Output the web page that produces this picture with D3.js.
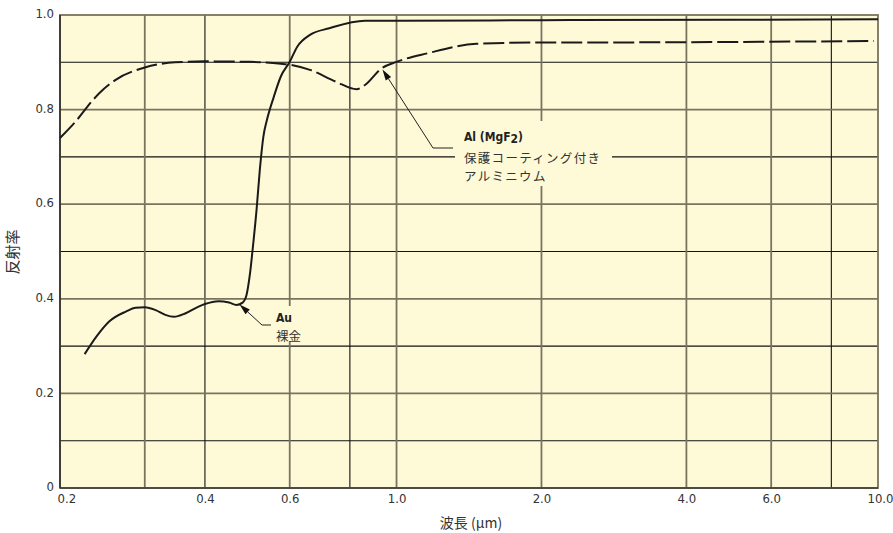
<!DOCTYPE html>
<html>
<head>
<meta charset="utf-8">
<script src="https://cdn.jsdelivr.net/npm/d3@7/dist/d3.min.js"></script>
<style>
  body { margin: 0; background: #ffffff; }
  svg { display: block; }
</style>
</head>
<body>
<svg id="chart" width="893" height="533"></svg>
<script>
// ---- data ----
const xTickValues = [0.2, 0.4, 0.6, 1.0, 2.0, 4.0, 6.0, 10.0];
const xTickLabels = ["0.2", "0.4", "0.6", "1.0", "2.0", "4.0", "6.0", "10.0"];
const yTickValues = [0, 0.2, 0.4, 0.6, 0.8, 1.0];
const yTickLabels = ["0", "0.2", "0.4", "0.6", "0.8", "1.0"];
const xGridMajor = [0.3, 0.6, 1.0, 2.0, 4.0, 6.0];
const xGridMinor = [0.4, 0.8, 8.0];
const yGridMajor = [0.2, 0.4, 0.6, 0.8];
const yGridMinor = [0.1, 0.3, 0.5, 0.7, 0.9];

const auWavelength = [0.225, 0.238, 0.253, 0.274, 0.287, 0.3, 0.316, 0.331, 0.345, 0.364, 0.387, 0.4,
  0.427, 0.449, 0.465, 0.479, 0.488, 0.496, 0.504, 0.512, 0.520, 0.529, 0.538, 0.556, 0.575, 0.6,
  0.622, 0.661, 0.725, 0.86, 1.0, 2.0, 5.0, 10.0];
const auReflectance = [0.283, 0.320, 0.352, 0.373, 0.381, 0.382, 0.376, 0.366, 0.362, 0.369, 0.383, 0.389,
  0.395, 0.392, 0.387, 0.392, 0.408, 0.452, 0.517, 0.588, 0.672, 0.743, 0.778, 0.827, 0.87, 0.901,
  0.933, 0.958, 0.972, 0.988, 0.988, 0.989, 0.990, 0.991];

const alWavelength = [0.2, 0.216, 0.234, 0.241, 0.261, 0.3, 0.347, 0.4, 0.496, 0.575, 0.6, 0.661,
  0.748, 0.826, 0.86, 0.93, 1.0, 1.159, 1.466, 2.0, 2.61, 5.0, 9.8];
const alReflectance = [0.740, 0.776, 0.820, 0.834, 0.863, 0.889, 0.900, 0.902, 0.901, 0.897, 0.895, 0.884,
  0.859, 0.843, 0.852, 0.887, 0.901, 0.919, 0.939, 0.942, 0.942, 0.943, 0.945];

const xTitle = "波長 (μm)";
const yTitle = "反射率";

// ---- layout ----
const L = 60, R = 878, T = 15, B = 488;
const GREY = "#7b735d";
const BG = "#fefad8";
const TXT = "#333333";
const NUM_FONT = "'Liberation Sans Narrow', 'DejaVu Sans Condensed', 'Roboto', sans-serif";
const JP_FONT = "'Noto Sans CJK JP', 'Noto Sans', sans-serif";

const svg = d3.select("#chart");
const x = d3.scaleLog().domain([0.2, 10]).range([L, R]);
const y = d3.scaleLinear().domain([0, 1]).range([B, T]);

svg.append("rect").attr("x", L).attr("y", T).attr("width", R - L).attr("height", B - T).attr("fill", BG);

const grid = svg.append("g");
grid.selectAll(".ygm").data(yGridMinor).join("line")
  .attr("x1", L).attr("x2", R).attr("y1", d => y(d)).attr("y2", d => y(d))
  .attr("stroke", "#111").attr("stroke-width", 1.1);
grid.selectAll(".xgm").data(xGridMinor).join("line")
  .attr("y1", T).attr("y2", B).attr("x1", d => x(d)).attr("x2", d => x(d))
  .attr("stroke", "#111").attr("stroke-width", 1.1);
grid.selectAll(".ygM").data(yGridMajor).join("line")
  .attr("x1", L).attr("x2", R).attr("y1", d => y(d)).attr("y2", d => y(d))
  .attr("stroke", GREY).attr("stroke-width", 1.8);
grid.selectAll(".xgM").data(xGridMajor).join("line")
  .attr("y1", T).attr("y2", B).attr("x1", d => x(d)).attr("x2", d => x(d))
  .attr("stroke", GREY).attr("stroke-width", 1.8);

// frame
svg.append("rect").attr("x", L).attr("y", T).attr("width", R - L).attr("height", B - T)
  .attr("fill", "none").attr("stroke", GREY).attr("stroke-width", 1.8);
svg.append("line").attr("x1", L).attr("x2", L).attr("y1", T).attr("y2", B).attr("stroke", "#222").attr("stroke-width", 1.4);
svg.append("line").attr("x1", L).attr("x2", R).attr("y1", B).attr("y2", B).attr("stroke", "#3a3a3a").attr("stroke-width", 1.4);

// label knockouts
svg.append("rect").attr("x", 455).attr("y", 121).attr("width", 157).attr("height", 65).attr("fill", BG);
svg.append("rect").attr("x", 273).attr("y", 306).attr("width", 32).attr("height", 35).attr("fill", BG);

// curves
const line = d3.line().x(d => x(d[0])).y(d => y(d[1])).curve(d3.curveMonotoneX);
svg.append("path").datum(alWavelength.map((w, i) => [w, alReflectance[i]]))
  .attr("d", line).attr("fill", "none").attr("stroke", "#1a1a1a").attr("stroke-width", 2)
  .attr("stroke-dasharray", "21,5");
svg.append("path").datum(auWavelength.map((w, i) => [w, auReflectance[i]]))
  .attr("d", line).attr("fill", "none").attr("stroke", "#1a1a1a").attr("stroke-width", 2);

// axes
const xAxis = d3.axisBottom(x).tickValues(xTickValues).tickFormat((d, i) => xTickLabels[i]).tickSize(0).tickPadding(6);
const gx = svg.append("g").attr("transform", `translate(0,${B})`).call(xAxis);
gx.select(".domain").remove();
gx.selectAll("text").attr("font-family", NUM_FONT).attr("font-size", 13).attr("fill", TXT)
  .attr("text-anchor", (d, i) => i === 0 ? "start" : (i === xTickValues.length - 1 ? "end" : "middle"))
  .attr("dx", (d, i) => i === 0 ? -3 : (i === xTickValues.length - 1 ? 15 : 0));

const yAxis = d3.axisLeft(y).tickValues(yTickValues).tickFormat((d, i) => yTickLabels[i]).tickSize(0).tickPadding(6);
const gy = svg.append("g").attr("transform", `translate(${L},0)`).call(yAxis);
gy.select(".domain").remove();
gy.selectAll("text").attr("font-family", NUM_FONT).attr("font-size", 13).attr("fill", TXT).attr("dy", "0.2em");

svg.append("text").attr("x", 471).attr("y", 528).attr("text-anchor", "middle")
  .attr("font-family", JP_FONT).attr("font-size", 14).attr("fill", TXT).text(xTitle);
svg.append("text").attr("transform", "translate(18,252) rotate(-90)").attr("text-anchor", "middle")
  .attr("font-family", JP_FONT).attr("font-size", 15).attr("fill", TXT).text(yTitle);

// annotations
function arrow(tip, bend, end) {
  svg.append("path").attr("d", `M${bend[0]},${bend[1]}L${end[0]},${end[1]}`)
    .attr("fill", "none").attr("stroke", "#222").attr("stroke-width", 1);
  const ang = Math.atan2(tip[1] - bend[1], tip[0] - bend[0]);
  const len = 11, w = 3.2;
  const bx = tip[0] - len * Math.cos(ang), by = tip[1] - len * Math.sin(ang);
  svg.append("path").attr("d", `M${bend[0]},${bend[1]}L${bx},${by}`)
    .attr("stroke", "#222").attr("stroke-width", 1);
  svg.append("path")
    .attr("d", `M${tip[0]},${tip[1]}L${bx + w * Math.sin(ang)},${by - w * Math.cos(ang)}L${bx - w * Math.sin(ang)},${by + w * Math.cos(ang)}Z`)
    .attr("fill", "#111");
}
arrow([x(0.935), y(0.885)], [433, 148], [453, 148]);
arrow([x(0.472), y(0.388)], [262, 325], [271, 325]);

const alLabel = svg.append("text").attr("x", 464).attr("y", 141).attr("font-family", NUM_FONT)
  .attr("font-weight", "bold").attr("font-size", 12).attr("fill", "#222");
alLabel.append("tspan").text("Al (MgF");
alLabel.append("tspan").attr("dy", 2).text("2");
alLabel.append("tspan").attr("dy", -2).text(")");
svg.append("text").attr("x", 464).attr("y", 163).attr("font-family", JP_FONT).attr("font-size", 12.5)
  .attr("letter-spacing", 1.3).attr("fill", TXT).text("保護コーティング付き");
svg.append("text").attr("x", 464).attr("y", 181).attr("font-family", JP_FONT).attr("font-size", 12.5)
  .attr("letter-spacing", 1.3).attr("fill", TXT).text("アルミニウム");

svg.append("text").attr("x", 276).attr("y", 322).attr("font-family", NUM_FONT)
  .attr("font-weight", "bold").attr("font-size", 12).attr("fill", "#222").text("Au");
svg.append("text").attr("x", 276).attr("y", 341).attr("font-family", JP_FONT).attr("font-size", 12.5)
  .attr("fill", TXT).text("裸金");
</script>
</body>
</html>
